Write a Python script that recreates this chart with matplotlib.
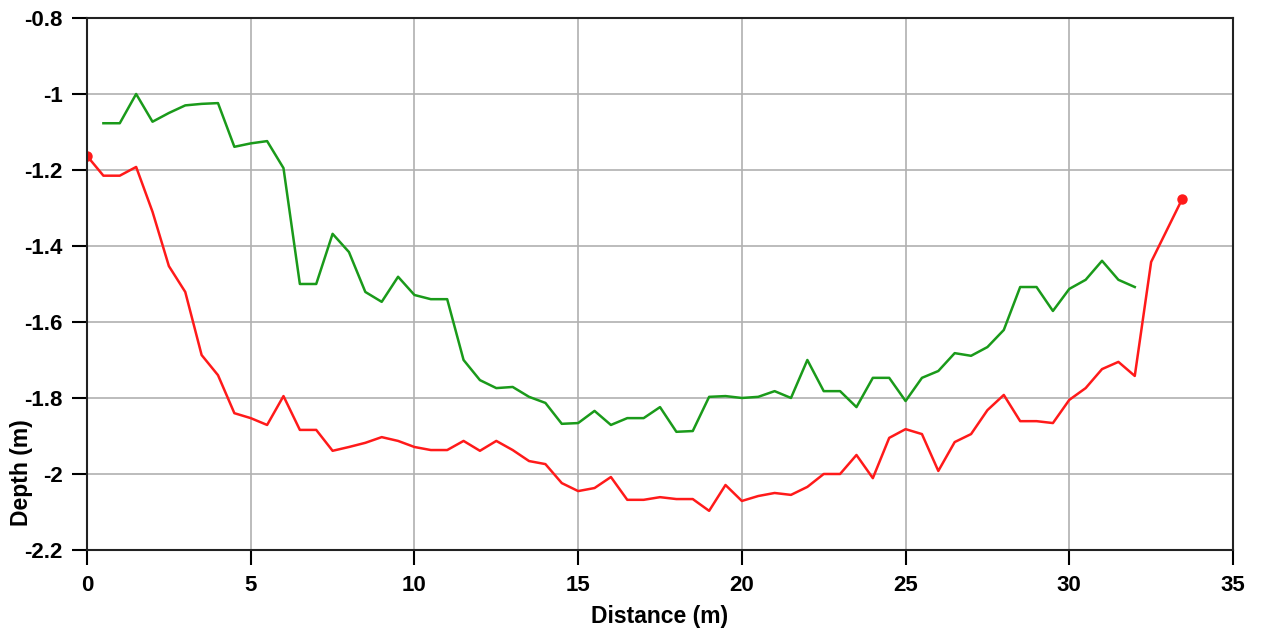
import numpy as np
import matplotlib.pyplot as plt

plt.rcParams['font.family'] = ['Liberation Sans', 'DejaVu Sans']

# green profile: every 0.5 m from 0.5 to 32
green_x = np.arange(0.5, 32.01, 0.5)
green_depth = [
    -1.077, -1.077, -1.000, -1.073, -1.050, -1.030, -1.026, -1.024, -1.139, -1.130,
    -1.124, -1.195, -1.500, -1.500, -1.368, -1.416, -1.521, -1.547, -1.481, -1.529,
    -1.540, -1.540, -1.700, -1.753, -1.774, -1.771, -1.797, -1.813, -1.868, -1.866,
    -1.834, -1.871, -1.853, -1.853, -1.824, -1.889, -1.887, -1.797, -1.795, -1.800,
    -1.797, -1.782, -1.800, -1.700, -1.782, -1.782, -1.824, -1.747, -1.747, -1.808,
    -1.747, -1.729, -1.682, -1.689, -1.666, -1.621, -1.508, -1.508, -1.571, -1.513,
    -1.489, -1.439, -1.489, -1.508,
]

# red profile: every 0.5 m from 0 to 32.5, then the end point
red_x = list(np.arange(0.0, 32.51, 0.5)) + [33.45]
red_depth = [
    -1.163, -1.215, -1.215, -1.192, -1.310, -1.453, -1.521, -1.687, -1.740, -1.840,
    -1.853, -1.871, -1.795, -1.884, -1.884, -1.939, -1.929, -1.918, -1.903, -1.913,
    -1.929, -1.937, -1.937, -1.913, -1.939, -1.913, -1.937, -1.966, -1.974, -2.024,
    -2.045, -2.037, -2.008, -2.068, -2.068, -2.061, -2.066, -2.066, -2.097, -2.029,
    -2.071, -2.058, -2.050, -2.055, -2.034, -2.000, -2.000, -1.950, -2.011, -1.905,
    -1.882, -1.895, -1.992, -1.916, -1.895, -1.832, -1.792, -1.861, -1.861, -1.866,
    -1.805, -1.774, -1.724, -1.705, -1.742, -1.442, -1.276,
]

fig = plt.figure(figsize=(12.65, 6.31), dpi=100)
ax = fig.add_axes([0.0688, 0.1284, 0.9059, 0.8431])

ax.plot(green_x, green_depth, color='#1a9a1a', lw=1.8)
ax.plot(red_x, red_depth, color='#ff1a1a', lw=1.8)
ax.plot([red_x[0], red_x[-1]], [red_depth[0], red_depth[-1]], 'o',
        color='#ff1a1a', ms=6.5)

ax.set_xlim(0, 35)
ax.set_ylim(-2.2, -0.8)
ax.set_xticks(range(0, 36, 5))
ax.set_yticks([-2.2, -2.0, -1.8, -1.6, -1.4, -1.2, -1.0, -0.8])
ax.set_yticklabels(['-2.2', '-2', '-1.8', '-1.6', '-1.4', '-1.2', '-1', '-0.8'])
ax.grid(True, color='#b0b0b0', lw=1.2)
ax.set_axisbelow(True)

for s in ax.spines.values():
    s.set_linewidth(1.5)
    s.set_color('#222222')
ax.tick_params(axis='x', direction='out', length=10.5, width=1.5,
               labelsize=16, pad=7.5)
ax.tick_params(axis='y', direction='out', length=10.5, width=1.5,
               labelsize=16, pad=7)
for lab in ax.get_xticklabels() + ax.get_yticklabels():
    lab.set_fontweight('bold')

ax.set_xlabel('Distance (m)', fontsize=16.5, fontweight='bold', labelpad=6.5)
ax.set_ylabel('Depth (m)', fontsize=16.5, fontweight='bold')
ax.yaxis.set_label_coords(-0.047, 0.145)

fig.savefig('out.png')
